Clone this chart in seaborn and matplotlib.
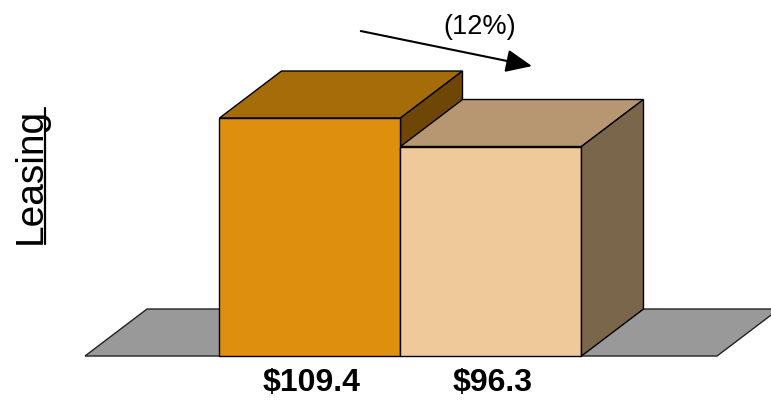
#!/usr/bin/env python3
# -*- coding: utf-8 -*-

import matplotlib as mpl
import matplotlib.pyplot as plt
from matplotlib.patches import Polygon
from matplotlib.lines import Line2D
import pandas as pd
import seaborn as sns

mpl.use("Agg")

sns.set_style("white")
plt.rcParams["font.family"] = ["Liberation Sans", "DejaVu Sans"]

# data
periods = ["prior", "current"]
values = [109.4, 96.3]
value_labels = ["$109.4", "$96.3"]
change_label = "(12%)"
segment = "Leasing"

front_colors = ["#DE8F0E", "#F0C99A"]
top_colors = ["#A66C0A", "#B69772"]
side_colors = ["#6E4706", "#7A664B"]
floor_color = "#999999"

# 3d depth offset (x in bar units, y in value units)
DX = 0.3425
DY = 21.6

df = pd.DataFrame({"period": periods, "value": values})

fig = plt.figure(figsize=(7.71, 4.03), dpi=100)
ax = fig.add_axes([0, 0, 1, 1])

sns.barplot(
    data=df,
    x="period",
    y="value",
    hue="period",
    palette=front_colors,
    saturation=1.0,
    width=1.0,
    edgecolor="black",
    linewidth=1.0,
    legend=False,
    ax=ax,
    zorder=3,
)

ax.set_xlim(-1.7127, 2.547)
ax.set_ylim(-21.6, 163.64)
ax.set_axis_off()

bars = list(ax.patches)

# floor
fl, fr = -1.243, 2.249
ax.add_patch(
    Polygon(
        [(fl, 0), (fr, 0), (fr + DX, DY), (fl + DX, DY)],
        closed=True,
        facecolor=floor_color,
        edgecolor="#222222",
        linewidth=1.0,
        zorder=1,
    )
)

# tops and sides of the boxes
for i, p in enumerate(bars):
    x0, w, h = p.get_x(), p.get_width(), p.get_height()
    z = 2 if i == 0 else 3.5
    top = [(x0, h), (x0 + w, h), (x0 + w + DX, h + DY), (x0 + DX, h + DY)]
    side = [(x0 + w, 0), (x0 + w, h), (x0 + w + DX, h + DY), (x0 + w + DX, DY)]
    ax.add_patch(Polygon(top, closed=True, facecolor=top_colors[i],
                         edgecolor="black", linewidth=1.0, zorder=z))
    ax.add_patch(Polygon(side, closed=True, facecolor=side_colors[i],
                         edgecolor="black", linewidth=1.0, zorder=z))
    # value under the box
    ax.text(x0 + w / 2.0 + 0.01, -12.3, value_labels[i], ha="center", va="center",
            fontsize=23, fontweight="bold", color="black")

# change arrow
ax.annotate(
    "",
    xy=(0.690, 0.836),
    xytext=(0.468, 0.923),
    xycoords="axes fraction",
    textcoords="axes fraction",
    arrowprops=dict(arrowstyle="-|>,head_length=0.8,head_width=0.35",
                    color="black", lw=1.5, mutation_scale=20,
                    shrinkA=0, shrinkB=0),
)
ax.text(0.6226, 0.933, change_label, transform=ax.transAxes, ha="center",
        va="center", fontsize=19.5, color="black")

# underlined segment label
lab = fig.text(31 / 771, 1 - 176 / 403, segment, rotation=90, ha="center",
               va="center", fontsize=28, color="black")
fig.canvas.draw()
bb = lab.get_window_extent(renderer=fig.canvas.get_renderer())
inv = fig.transFigure.inverted()
(x_a, y_a), (x_b, y_b) = inv.transform([(bb.x0, bb.y0), (bb.x1, bb.y1)])
ux = x_b - 4.0 / 771
fig.add_artist(Line2D([ux, ux], [y_a, y_b], color="black", lw=1.6,
                      transform=fig.transFigure))

plt.savefig("out.png", dpi=100)
